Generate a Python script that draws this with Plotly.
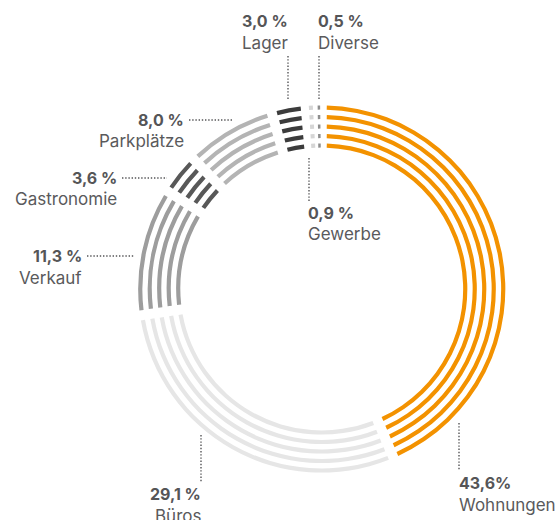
import math
import plotly.graph_objects as go

# ---- data ----
categories = ["Wohnungen", "Büros", "Verkauf", "Gastronomie", "Parkplätze", "Lager", "Gewerbe", "Diverse"]
values = [43.6, 29.1, 11.3, 3.6, 8.0, 3.0, 0.9, 0.5]
pct_labels = ["43,6%", "29,1 %", "11,3 %", "3,6 %", "8,0 %", "3,0 %", "0,9 %", "0,5 %"]

# ---- styles ----
colors = ["#F39200", "#E6E6E6", "#9D9D9D", "#585858", "#B4B4B4", "#3C3C3C", "#D6D6D6", "#8E8E8E"]
W, H = 556, 520
CX, CY = 321.75, 289.0          # ring centre in px
RMAX = 190.0                     # radial axis range (1 unit = 1 px)
ring_radii = [181.5, 172.0, 162.5, 153.0, 143.5]
thick = 4.2
gap_px = 10.0
min_px = [4.0] * len(values)
min_px[-1] = 2.5

fig = go.Figure()

total = sum(values)
starts = []
acc = 0.0
for v in values:
    starts.append(acc / total * 360.0)
    acc += v
ends = [s + v / total * 360.0 for s, v in zip(starts, values)]

for r in ring_radii:
    thetas, widths = [], []
    for s, e, mp in zip(starts, ends, min_px):
        slot_px = math.radians(e - s) * r
        w_px = max(slot_px - gap_px, mp)
        thetas.append((s + e) / 2)
        widths.append(math.degrees(w_px / r))
    fig.add_trace(go.Barpolar(
        theta=thetas, width=widths,
        r=[thick] * len(values), base=[r - thick / 2] * len(values),
        marker=dict(color=colors, line=dict(width=0)),
        hoverinfo="skip", showlegend=False,
    ))

fig.update_layout(
    width=W, height=H,
    margin=dict(l=0, r=0, t=0, b=0),
    paper_bgcolor="white", plot_bgcolor="white",
    polar=dict(
        domain=dict(x=[(CX - RMAX) / W, (CX + RMAX) / W],
                    y=[(H - CY - RMAX) / H, (H - CY + RMAX) / H]),
        bgcolor="white",
        barmode="overlay",
        radialaxis=dict(visible=False, range=[0, RMAX]),
        angularaxis=dict(visible=False, rotation=90, direction="clockwise"),
    ),
)

# label layout: (category index, anchor x px, pct mid y px, xanchor, leader line px)
label_pos = [
    (0, 457, 483, "left", (459, 423, 459, 470)),
    (1, 203, 494, "right", (201, 435, 201, 482)),
    (2, 84, 256, "right", (87, 256, 135, 256)),
    (3, 119, 178, "right", (122, 178, 167, 178)),
    (4, 186, 120, "right", (189, 120, 232, 120)),
    (5, 290, 21, "right", (288, 56, 288, 100)),
    (6, 306, 213, "left", (309, 158, 309, 201)),
    (7, 316, 21, "left", (319, 56, 319, 100)),
]
TXT = "#555557"
FONT = "Inter"

def px(x, y):
    return x / W, 1 - y / H

for idx, x, y, xa, (x0, y0, x1, y1) in label_pos:
    ax, ay = px(x, y)
    fig.add_annotation(x=ax, y=ay, xref="paper", yref="paper", xanchor=xa, yanchor="middle",
                       text="<b>" + pct_labels[idx] + "</b>", showarrow=False,
                       font=dict(family=FONT, size=16, color=TXT))
    bx, by = px(x, y + 21.5)
    fig.add_annotation(x=bx, y=by, xref="paper", yref="paper", xanchor=xa, yanchor="middle",
                       text=categories[idx], showarrow=False,
                       font=dict(family=FONT, size=17, color="#5A5A5C"))
    p0 = px(x0, y0)
    p1 = px(x1, y1)
    fig.add_shape(type="line", xref="paper", yref="paper", x0=p0[0], y0=p0[1], x1=p1[0], y1=p1[1],
                  line=dict(color=TXT, width=1.4, dash="1.4px,1.8px"))

fig.write_html("out.html")
